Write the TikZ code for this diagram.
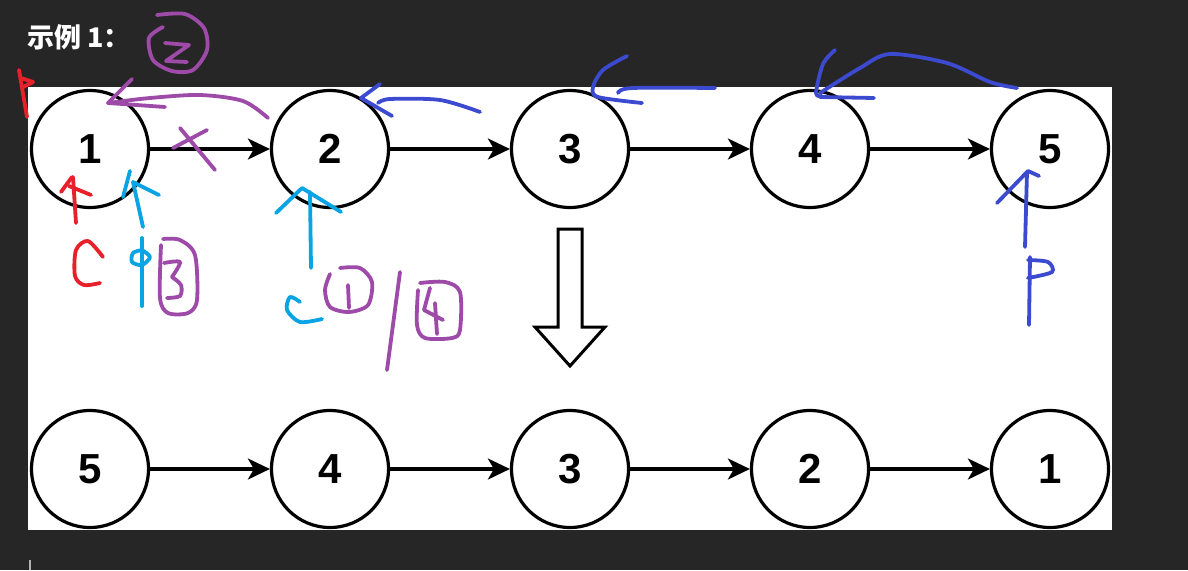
\documentclass[tikz,border=0pt]{standalone}
\usepackage{fontspec}
\setmainfont{Liberation Sans}
\newfontfamily\cjkfont{Noto Sans CJK SC}
\usetikzlibrary{arrows.meta,positioning}

\definecolor{bgdark}{RGB}{38,38,38}
\definecolor{penpurple}{RGB}{158,74,168}
\definecolor{penred}{RGB}{232,32,42}
\definecolor{pencyan}{RGB}{10,163,227}
\definecolor{penblue}{RGB}{60,74,208}

\begin{document}
\begin{tikzpicture}[x=1pt,y=-1pt,
	listnode/.style={circle,draw=black,fill=white,line width=3.2pt,minimum size=117pt,inner sep=0pt,
		font=\fontsize{42}{44}\selectfont\bfseries},
	link/.style={-{Stealth[length=22pt,width=21pt,inset=6pt]},line width=3.2pt},
	pen/.style={line width=3.8pt,line cap=round,line join=round}]
	%background and white panel
	\useasboundingbox (0,0) rectangle (1188,570);
	\fill[bgdark] (0,0) rectangle (1188,570);
	\fill[white] (28,87) rectangle (1112,530);
	\draw[gray!60,line width=2pt] (30,560)--(30,570);
	
	%title
	\node[anchor=west,text=white,inner sep=0pt,font=\fontsize{27}{28}\selectfont\bfseries] (title) at (27,37) {\cjkfont 示例 1：};
	
	%top list
	\node[listnode] (a1) at (90,149)  {1};
	\node[listnode] (a2) at (330,149) {2};
	\node[listnode] (a3) at (570,149) {3};
	\node[listnode] (a4) at (810,149) {4};
	\node[listnode] (a5) at (1050,149){5};
	
	%bottom list
	\node[listnode] (b1) at (90,469)  {5};
	\node[listnode] (b2) at (330,469) {4};
	\node[listnode] (b3) at (570,469) {3};
	\node[listnode] (b4) at (810,469) {2};
	\node[listnode] (b5) at (1050,469){1};
	
	%next pointers
	\draw[link] (a1)--(a2);
	\draw[link] (a2)--(a3);
	\draw[link] (a3)--(a4);
	\draw[link] (a4)--(a5);
	%
	\draw[link] (b1)--(b2);
	\draw[link] (b2)--(b3);
	\draw[link] (b3)--(b4);
	\draw[link] (b4)--(b5);
	
	%hollow down arrow
	\draw[line width=3pt,line join=miter,fill=white] (558,229)--(582,229)--(582,327)--(605,327)--(570,366)--(535,327)--(558,327)--cycle;
	
	%purple notes
	\draw[pen,penpurple] plot[smooth] coordinates {(157,15) (185,14) (204,28) (207,50) (193,70) (172,71) (153,60) (149,38) (163,27)};
	\draw[pen,penpurple] (165,43)--(189,45)--(166,61)--(187,62);
	\draw[pen,penpurple] plot[smooth] coordinates {(268,118) (243,101) (200,95) (150,98) (108,103)};
	\draw[pen,penpurple] (132,79)--(108,103)--(165,107);
	\draw[pen,penpurple] (173,148)--(207,130);
	\draw[pen,penpurple] (180,128)--(215,170);
	\draw[pen,penpurple] plot[smooth] coordinates {(163,239) (180,240) (195,255) (197,300) (188,313) (168,313) (160,298) (161,245)};
	\draw[pen,penpurple] plot[smooth] coordinates {(164,263) (180,262) (172,277)};
	\draw[pen,penpurple] plot[smooth] coordinates {(172,277) (181,285) (180,296) (167,298)};
	\draw[pen,penpurple] plot[smooth] coordinates {(340,268) (360,268) (372,282) (368,305) (349,312) (330,307) (325,290) (330,274)};
	\draw[pen,penpurple] (348,285)--(349,308);
	\draw[pen,penpurple] (400,272)--(387,370);
	\draw[pen,penpurple] plot[smooth] coordinates {(420,283) (445,282) (460,292) (460,330) (452,338) (425,338) (417,325) (418,290)};
	\draw[pen,penpurple] (430,288)--(424,310)--(443,320);
	\draw[pen,penpurple] (435,303)--(437,334);
	
	%red notes
	\draw[pen,penred] (19,70)--(27,117);
	\draw[pen,penred] (21,78)--(33,82)--(23,87);
	\draw[pen,penred] (73,177)--(76,223);
	\draw[pen,penred] (61,192)--(72,177);
	\draw[pen,penred] (69,186)--(91,195);
	\draw[pen,penred] plot[smooth] coordinates {(103,257) (88,241) (76,250) (75,276) (84,285) (100,283)};
	
	%cyan notes
	\draw[pen,pencyan] (143,227)--(133,182);
	\draw[pen,pencyan] (123,197)--(130,171);
	\draw[pen,pencyan] (133,182)--(159,195);
	\draw[pen,pencyan] (142,238)--(142,306);
	\draw[pen,pencyan] plot[smooth] coordinates {(142,250) (133,253) (132,262) (142,265) (150,257) (142,250)};
	\draw[pen,pencyan] (311,268)--(310,192);
	\draw[pen,pencyan] (276,213)--(302,188)--(341,212);
	\draw[pen,pencyan] plot[smooth] coordinates {(300,302) (290,297) (287,310) (300,322) (322,319)};
	
	%blue notes
	\draw[pen,penblue] plot[smooth] coordinates {(480,112) (440,100) (390,99) (378,103)};
	\draw[pen,penblue] (380,84)--(361,98)--(392,116);
	\draw[pen,penblue] plot[smooth] coordinates {(627,56) (603,70) (593,87) (598,97) (642,103)};
	\draw[pen,penblue] plot[smooth] coordinates {(618,93) (632,88) (715,88)};
	\draw[pen,penblue] plot[smooth] coordinates {(835,50) (823,64) (816,93) (822,96)};
	\draw[pen,penblue] plot[smooth] coordinates {(1017,88) (990,82) (947,63) (890,54) (860,68) (820,93)};
	\draw[pen,penblue] (820,97)--(874,98);
	\draw[pen,penblue] (1025,247)--(1027,172);
	\draw[pen,penblue] (997,203)--(1028,171)--(1039,176);
	\draw[pen,penblue] (1030,257)--(1029,325);
	\draw[pen,penblue] plot[smooth] coordinates {(1028,260) (1048,262) (1052,272) (1028,278)};
\end{tikzpicture}
\end{document}
